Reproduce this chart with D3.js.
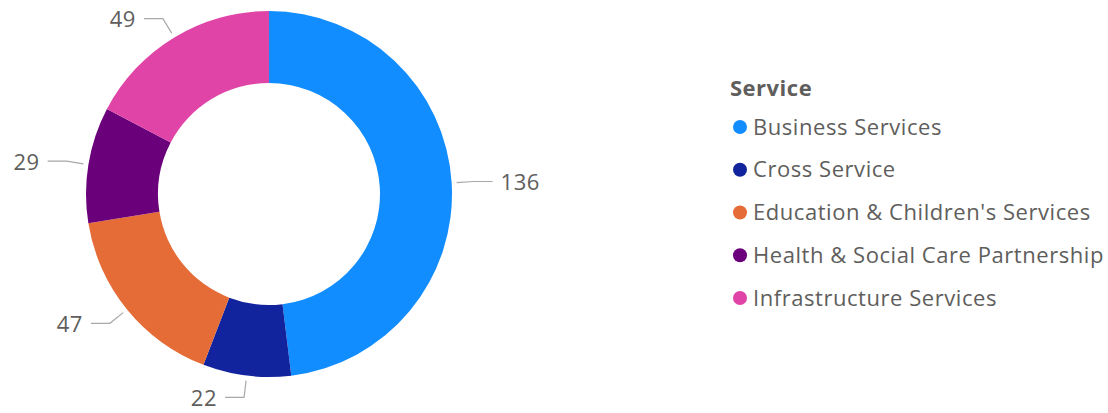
<!DOCTYPE html>
<html>
<head>
<meta charset="utf-8">
<script src="https://cdn.jsdelivr.net/npm/d3@7"></script>
<style>
  html, body { margin: 0; padding: 0; background: #fff; }
  svg { display: block; }
</style>
</head>
<body>
<svg id="chart" width="1108" height="413"></svg>
<script>
// Ticket counts by service
const categories = [
  "Business Services",
  "Cross Service",
  "Education & Children's Services",
  "Health & Social Care Partnership",
  "Infrastructure Services"
];
const values = [136, 22, 47, 29, 49];
const colors = ["#118DFF", "#12239E", "#E66C37", "#6B007B", "#E044A7"];
const legendTitle = "Service";

const FONT = "'Segoe UI', 'Open Sans', sans-serif";
const svg = d3.select("#chart");

const cx = 269, cy = 194;
const outerR = 183, innerR = 111;

const color = d3.scaleOrdinal().domain(categories).range(colors);

const pie = d3.pie().sort(null).value(d => d.value);
const arcs = pie(categories.map((c, i) => ({ name: c, value: values[i] })));
const arc = d3.arc().innerRadius(innerR).outerRadius(outerR);

const g = svg.append("g").attr("transform", `translate(${cx},${cy})`);

g.selectAll("path.slice")
  .data(arcs)
  .join("path")
  .attr("class", "slice")
  .attr("d", arc)
  .attr("fill", d => color(d.data.name));

// Data labels with elbow leader lines
const polar = (r, a) => [r * Math.sin(a), -r * Math.cos(a)];
const labels = g.selectAll("g.lbl").data(arcs).join("g").attr("class", "lbl");

labels.each(function (d) {
  const a = (d.startAngle + d.endAngle) / 2;
  const side = Math.sin(a) >= 0 ? 1 : -1;
  const p0 = polar(outerR + 5, a);
  const p1 = polar(outerR + 22, a);
  const p2 = [p1[0] + side * 19, p1[1]];
  const sel = d3.select(this);
  sel.append("polyline")
    .attr("points", [p0, p1, p2].map(p => p.join(",")).join(" "))
    .attr("fill", "none")
    .attr("stroke", "#a8a8a8")
    .attr("stroke-width", 1.2);
  sel.append("text")
    .attr("x", p2[0] + side * 8)
    .attr("y", p2[1] + 1)
    .attr("dy", "0.35em")
    .attr("text-anchor", side > 0 ? "start" : "end")
    .attr("font-family", FONT)
    .attr("font-size", 22)
    .attr("letter-spacing", 0.5)
    .attr("fill", "#605E5C")
    .text(d.data.value);
});

// Legend
const legend = svg.append("g").attr("transform", "translate(730,0)");
legend.append("text")
  .attr("x", 0)
  .attr("y", 88)
  .attr("dy", "0.35em")
  .attr("font-family", FONT)
  .attr("font-size", 22)
  .attr("letter-spacing", 0.5)
  .attr("font-weight", "bold")
  .attr("fill", "#605E5C")
  .text(legendTitle);

const rowY = d3.scalePoint().domain(categories).range([127, 298]);
const items = legend.selectAll("g.item")
  .data(categories)
  .join("g")
  .attr("class", "item")
  .attr("transform", d => `translate(0,${rowY(d)})`);

items.append("circle")
  .attr("cx", 10)
  .attr("cy", 0)
  .attr("r", 7)
  .attr("fill", d => color(d));

items.append("text")
  .attr("x", 23)
  .attr("y", 0)
  .attr("dy", "0.35em")
  .attr("font-family", FONT)
  .attr("font-size", 22)
  .attr("letter-spacing", 0.55)
  .attr("fill", "#605E5C")
  .text(d => d);
</script>
</body>
</html>
